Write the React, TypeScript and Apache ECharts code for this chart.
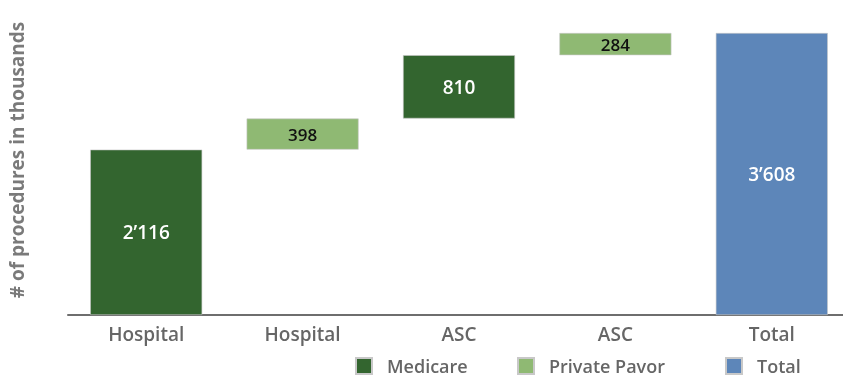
import React, { useEffect, useRef } from "react";
import * as echarts from "echarts";

const categories = ["Hospital", "Hospital", "ASC", "ASC", "Total"];
const medicare: (number | string)[] = [2116, "-", 810, "-", "-"];
const privatePavor: (number | string)[] = ["-", 398, "-", 284, "-"];
const total: (number | string)[] = ["-", "-", "-", "-", 3608];
const yTitle = "# of procedures in thousands";

const COLORS = { medicare: "#33652f", privatePavor: "#8fb973", total: "#5d86b9" };

function fmt(v: number) {
  return String(v).replace(/\B(?=(\d{3})+(?!\d))/g, "\u2019");
}

export default function App() {
  const ref = useRef<HTMLDivElement>(null);
  useEffect(() => {
    if (!ref.current) return;
    const chart = echarts.init(ref.current, undefined, { renderer: "svg" });
    const base: number[] = [];
    let cum = 0;
    for (let i = 0; i < categories.length; i++) {
      const m = typeof medicare[i] === "number" ? (medicare[i] as number) : 0;
      const p = typeof privatePavor[i] === "number" ? (privatePavor[i] as number) : 0;
      const t = typeof total[i] === "number" ? (total[i] as number) : 0;
      if (t) {
        base.push(0);
      } else {
        base.push(cum);
        cum += m + p;
      }
    }
    const font = "'Open Sans', sans-serif";
    const border = { borderColor: "#c8c8c8", borderWidth: 0.6 };
    const legendCommon = {
      top: 357,
      padding: 0,
      icon: "rect",
      itemWidth: 16,
      itemHeight: 16,
      itemGap: 0,
      textStyle: {
        color: "#666",
        fontSize: 18,
        lineHeight: 18,
        fontWeight: 600,
        fontFamily: font,
        padding: [0, 0, 0, 10],
      },
      selectedMode: false,
    };
    chart.setOption({
      animation: false,
      grid: { left: 68, top: 33, width: 782, bottom: 63, containLabel: false },
      legend: [
        { ...legendCommon, left: 355, data: ["Medicare"] },
        { ...legendCommon, left: 517, data: ["Private Pavor"] },
        { ...legendCommon, left: 725, data: ["Total"] },
      ],
      graphic: [
        {
          type: "text",
          rotation: Math.PI / 2,
          x: 17,
          y: 160,
          style: {
            text: yTitle,
            fill: "#7a7a7a",
            font: `700 19px ${font}`,
            align: "center",
            verticalAlign: "middle",
          },
        },
      ],
      xAxis: {
        type: "category",
        data: categories,
        axisLine: { lineStyle: { color: "#6e6e6e", width: 2 } },
        axisTick: { show: false },
        axisLabel: { color: "#666", fontSize: 19, fontWeight: 600, fontFamily: font, margin: 9 },
      },
      yAxis: {
        type: "value",
        min: 0,
        max: 3608,
        show: false,
        splitLine: { show: false },
      },
      series: [
        {
          name: "base",
          type: "bar",
          stack: "w",
          data: base,
          barWidth: 112,
          itemStyle: { color: "transparent" },
          silent: true,
          label: { show: false },
        },
        {
          name: "Medicare",
          type: "bar",
          stack: "w",
          data: medicare,
          barWidth: 112,
          itemStyle: { color: COLORS.medicare, ...border },
          label: {
            show: true,
            position: "inside",
            color: "#fff",
            fontSize: 19,
            fontWeight: 600,
            fontFamily: font,
            formatter: (p: any) => fmt(p.value),
          },
        },
        {
          name: "Private Pavor",
          type: "bar",
          stack: "w",
          data: privatePavor,
          barWidth: 112,
          itemStyle: { color: COLORS.privatePavor, ...border },
          label: {
            show: true,
            position: "inside",
            color: "#111",
            fontSize: 17,
            fontWeight: 600,
            fontFamily: font,
            formatter: (p: any) => fmt(p.value),
          },
        },
        {
          name: "Total",
          type: "bar",
          stack: "w",
          data: total,
          barWidth: 112,
          itemStyle: { color: COLORS.total, ...border },
          label: {
            show: true,
            position: "inside",
            color: "#fff",
            fontSize: 19,
            fontWeight: 600,
            fontFamily: font,
            formatter: (p: any) => fmt(p.value),
          },
        },
      ],
    });
    return () => chart.dispose();
  }, []);
  return (
    <div style={{ position: "fixed", left: 0, top: 0, width: 843, height: 378, overflow: "hidden" }}>
      <div ref={ref} style={{ width: 860, height: 378 }} />
    </div>
  );
}
